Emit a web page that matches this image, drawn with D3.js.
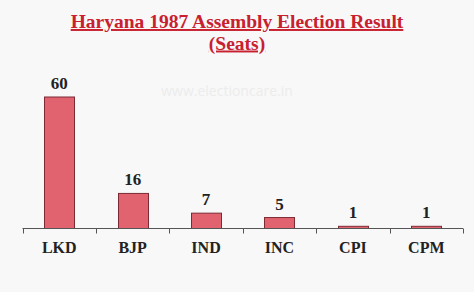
<!DOCTYPE html>
<html>
<head>
<meta charset="utf-8">
<script src="https://cdn.jsdelivr.net/npm/d3@7"></script>
<style>
  body { margin: 0; background: #f8f8f8; }
  svg { display: block; }
</style>
</head>
<body>
<svg width="474" height="292"></svg>
<script>
const parties = ['LKD', 'BJP', 'IND', 'INC', 'CPI', 'CPM'];
const seats = [60, 16, 7, 5, 1, 1];
const titleLines = ['Haryana 1987 Assembly Election Result', '(Seats)'];

const svg = d3.select('svg');
const width = 474;
const height = 292;

const margin = { left: 22.5, right: 11, top: 97, bottom: 63 };
const axisY = height - margin.bottom - 0.5;

const data = parties.map((p, i) => ({ party: p, value: seats[i] }));

const fontFamily = '"Liberation Serif", "DejaVu Serif", serif';
const barFill = '#e0636f';
const barStroke = '#7d2a34';
const titleColor = '#c8202f';

// background
svg.append('rect')
  .attr('width', width)
  .attr('height', height)
  .attr('fill', '#f8f8f8');

// title, underlined
const titleG = svg.append('g');
titleLines.forEach((line, i) => {
  titleG.append('text')
    .text(line)
    .attr('x', width / 2)
    .attr('y', 28 + i * 21.5)
    .attr('text-anchor', 'middle')
    .attr('font-family', fontFamily)
    .attr('font-weight', 'bold')
    .attr('font-size', 19.5)
    .attr('fill', titleColor)
    .attr('text-decoration', 'underline');
});

// watermark
svg.append('text')
  .text('www.electioncare.in')
  .attr('x', 227)
  .attr('y', 96)
  .attr('text-anchor', 'middle')
  .attr('font-family', '"Open Sans", sans-serif')
  .attr('font-size', 14)
  .attr('fill', '#ececec');

const xScale = d3.scaleBand()
  .domain(parties)
  .range([margin.left, width - margin.right])
  .paddingInner(0.59)
  .paddingOuter(0.295);

const yScale = d3.scaleLinear()
  .domain([0, 60])
  .range([axisY, margin.top]);

// bars
svg.append('g').selectAll('rect').data(data)
  .enter().append('rect')
    .attr('x', d => Math.round(xScale(d.party)) + 0.5)
    .attr('y', d => yScale(d.value))
    .attr('width', Math.round(xScale.bandwidth()))
    .attr('height', d => axisY - yScale(d.value))
    .attr('fill', barFill)
    .attr('stroke', barStroke)
    .attr('stroke-width', 1);

// value labels
svg.append('g').selectAll('text').data(data)
  .enter().append('text')
    .text(d => d.value)
    .attr('x', d => xScale(d.party) + xScale.bandwidth() / 2)
    .attr('y', d => yScale(d.value) - 8)
    .attr('text-anchor', 'middle')
    .attr('font-family', fontFamily)
    .attr('font-weight', 'bold')
    .attr('font-size', 17)
    .attr('fill', '#222');

// x axis with ticks between categories
const xAxis = d3.axisBottom(xScale)
  .tickSize(0)
  .tickPadding(13);

const xAxisG = svg.append('g')
  .attr('transform', `translate(0,${axisY})`)
  .call(xAxis);

xAxisG.select('.domain').remove();
xAxisG.selectAll('.tick text')
  .attr('font-family', fontFamily)
  .attr('font-weight', 'bold')
  .attr('font-size', 16)
  .attr('fill', '#222');

const step = xScale.step();
const tickXs = d3.range(parties.length + 1).map(i => margin.left + i * step);

xAxisG.append('line')
  .attr('x1', tickXs[0])
  .attr('x2', tickXs[tickXs.length - 1])
  .attr('stroke', '#555')
  .attr('stroke-width', 1);

xAxisG.selectAll('.sep').data(tickXs)
  .enter().append('line')
    .attr('class', 'sep')
    .attr('x1', d => Math.round(d) + 0.5)
    .attr('x2', d => Math.round(d) + 0.5)
    .attr('y1', 0)
    .attr('y2', 5)
    .attr('stroke', '#555');
</script>
</body>
</html>
